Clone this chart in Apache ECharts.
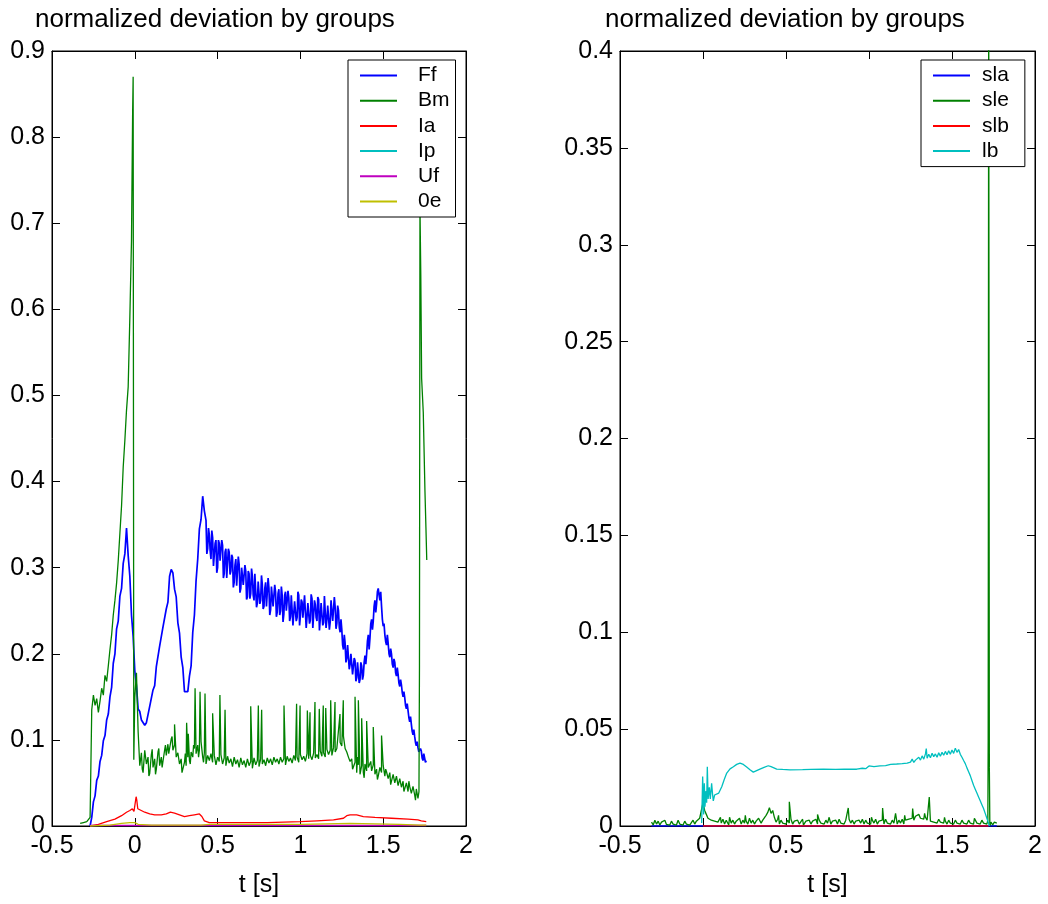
<!DOCTYPE html>
<html>
<head>
<meta charset="utf-8">
<script src="https://cdn.jsdelivr.net/npm/echarts@6/dist/echarts.min.js"></script>
<style>
html,body{margin:0;padding:0;background:#fff;}
#chart{width:1048px;height:904px;}
</style>
</head>
<body>
<div id="chart"></div>
<script>
// ---------- tick / axis data ----------
const xTicks = [-0.5, 0, 0.5, 1, 1.5, 2];
const leftYTicks = [0, 0.1, 0.2, 0.3, 0.4, 0.5, 0.6, 0.7, 0.8, 0.9];
const rightYTicks = [0, 0.05, 0.1, 0.15, 0.2, 0.25, 0.3, 0.35, 0.4];
const titleText = 'normalized deviation by groups';
const xName = 't [s]';
const leftNames = ['Ff', 'Bm', 'Ia', 'Ip', 'Uf', '0e'];
const rightNames = ['sla', 'sle', 'slb', 'lb'];

// sampling step of the recorded signals (s)
const sampleStep = 0.01;

// ---------- left panel ----------
// Ff: samples every 0.01 s starting at t = -0.27
const ffStart = -0.27;
const ffValues = [
  0.000,0.010,0.028,0.035,0.053,0.058,0.075,0.082,0.099,0.105,
  0.123,0.130,0.150,0.161,0.189,0.200,0.229,0.238,0.267,0.276,
  0.305,0.316,0.346,0.314,0.290,0.245,0.220,0.180,0.163,0.136,
  0.133,0.123,0.125,0.117,0.120,0.122,0.139,0.141,0.158,0.163,
  0.185,0.187,0.209,0.210,0.231,0.232,0.252,0.260,0.290,0.298,
  0.294,0.275,0.266,0.236,0.224,0.196,0.184,0.156,0.156,0.156,
  0.174,0.186,0.225,0.245,0.285,0.310,0.345,0.356,0.383,0.366,
  0.355,0.322,0.338,0.310,0.335,0.304,0.332,0.300,0.328,0.308,
  0.326,0.293,0.322,0.290,0.318,0.296,0.312,0.283,0.310,0.280,
  0.304,0.276,0.300,0.281,0.296,0.266,0.293,0.270,0.290,0.262,
  0.294,0.259,0.286,0.262,0.280,0.255,0.283,0.257,0.276,0.251,
  0.279,0.254,0.272,0.248,0.275,0.250,0.268,0.246,0.272,0.249,
  0.265,0.243,0.270,0.247,0.262,0.242,0.268,0.244,0.260,0.240,
  0.266,0.243,0.259,0.239,0.264,0.245,0.257,0.238,0.263,0.241,
  0.258,0.236,0.265,0.240,0.256,0.237,0.262,0.238,0.254,0.235,
  0.250,0.225,0.228,0.205,0.212,0.195,0.208,0.188,0.198,0.178,
  0.192,0.172,0.188,0.170,0.186,0.175,0.198,0.200,0.222,0.218,
  0.240,0.238,0.262,0.258,0.276,0.262,0.255,0.232,0.222,0.210,
  0.212,0.196,0.200,0.184,0.190,0.174,0.176,0.162,0.164,0.150,
  0.149,0.136,0.134,0.121,0.118,0.106,0.104,0.093,0.091,0.084,
  0.087,0.076,0.082,0.076
];
// Ff: in-between samples (t = 0.435, 0.445, ... 1.755)
const ffMidStart = 0.435;
const ffMidValues = [
  0.316,0.346,0.320,0.343,0.302,0.328,0.294,0.332,0.308,0.332,
  0.288,0.318,0.288,0.322,0.292,0.315,0.277,0.303,0.279,0.313,
  0.271,0.300,0.280,0.303,0.263,0.296,0.264,0.299,0.268,0.293,
  0.254,0.284,0.258,0.291,0.252,0.276,0.255,0.288,0.245,0.278,
  0.255,0.280,0.243,0.270,0.245,0.278,0.237,0.268,0.250,0.273,
  0.238,0.268,0.233,0.261,0.238,0.272,0.233,0.263,0.242,0.268,
  0.230,0.259,0.235,0.269,0.230,0.262,0.242,0.266,0.227,0.259,
  0.233,0.267,0.230,0.256,0.228,0.262,0.238,0.266,0.229,0.256,
  0.230,
  0.240,0.210,0.222,0.190,0.210,0.182,
  0.200,0.176,0.195,0.168,0.190,0.166,0.190,0.170,0.190,0.188,
  0.215,0.205,0.235,0.228,0.255,0.248,0.272,0.268,0.272,0.240,
  0.235,0.214,0.222,0.200,0.206,0.188,0.194,0.178,0.184,0.166,
  0.170,0.155,0.156,0.140,0.142,0.126,0.127,0.110,0.112,0.097,
  0.098,0.086,0.090,0.079,0.084,0.074
];

// Bm: samples every 0.01 s starting at t = -0.33
const bmStart = -0.33;
const bmValues = [
  0.003,0.005,0.004,0.006,0.005,0.007,0.010,0.135,0.152,0.140,
  0.148,0.132,0.145,0.160,0.152,0.175,0.168,0.186,0.205,0.222,
  0.245,0.262,0.282,0.308,0.340,0.372,0.417,0.448,0.483,0.510,
  0.590,0.680,0.870,0.150,0.178,0.110,0.070,0.085,0.062,0.088,
  0.072,0.080,0.061,0.083,0.068,0.078,0.066,0.086,0.070,0.080,
  0.075,0.088,0.082,0.095,0.090,0.101,0.088,0.094,0.080,0.085,
  0.072,0.078,0.066,0.074,0.070,0.080,0.076,0.086,0.080,0.090,
  0.084,0.094,0.088,0.098,0.080,0.085,0.072,0.082,0.076,0.084,
  0.074,0.082,0.071,0.080,0.075,0.083,0.072,0.079,0.070,0.081,
  0.073,0.078,0.069,0.080,0.072,0.077,0.068,0.079,0.071,0.076,
  0.068,0.078,0.070,0.075,0.067,0.079,0.071,0.076,0.069,0.078,
  0.072,0.077,0.070,0.079,0.073,0.078,0.071,0.080,0.074,0.078,
  0.072,0.080,0.074,0.078,0.071,0.081,0.075,0.079,0.073,0.082,
  0.076,0.080,0.074,0.083,0.077,0.081,0.075,0.084,0.078,0.082,
  0.077,0.085,0.079,0.083,0.078,0.087,0.081,0.085,0.080,0.089,
  0.083,0.088,0.082,0.091,0.086,0.090,0.088,0.097,0.093,0.104,
  0.090,0.086,0.080,0.075,0.078,0.068,0.074,0.062,0.071,0.060,
  0.070,0.062,0.072,0.064,0.068,0.070,0.064,0.071,0.060,0.066,
  0.058,0.068,0.062,0.070,0.058,0.063,0.055,0.062,0.052,0.060,
  0.050,0.058,0.047,0.055,0.045,0.052,0.042,0.050,0.040,0.046,
  0.038,0.046,0.036,0.043,0.032
];
// Bm: isolated spikes, in-between samples and the end burst [t, value]
const bmExtra = [
  [-0.013,0.830],[-0.006,0.077],
  [0.045,0.066],[0.065,0.090],[0.085,0.058],[0.105,0.089],[0.125,0.060],[0.145,0.090],
  [0.165,0.068],[0.185,0.094],[0.205,0.084],[0.225,0.104],[0.255,0.078],[0.285,0.062],
  [0.305,0.084],[0.335,0.072],[0.355,0.094],[0.385,0.080],[0.415,0.074],
  [0.240,0.118],[0.313,0.120],[0.323,0.107],[0.364,0.160],[0.394,0.156],[0.424,0.154],
  [0.470,0.131],[0.514,0.152],[0.545,0.135],[0.700,0.139],[0.746,0.140],[0.766,0.135],
  [0.901,0.140],[0.977,0.142],[0.998,0.140],[1.042,0.134],[1.058,0.132],[1.088,0.144],
  [1.114,0.136],[1.138,0.140],[1.153,0.137],[1.183,0.146],[1.209,0.144],[1.239,0.130],
  [1.259,0.146],[1.330,0.150],[1.350,0.146],[1.370,0.125],[1.400,0.122],[1.440,0.115],
  [1.490,0.105],[1.315,0.066],[1.345,0.080],[1.385,0.056],[1.425,0.075],[1.465,0.054],
  [1.515,0.066],[1.545,0.048],[1.585,0.060],[1.625,0.040],[1.655,0.052],[1.695,0.030],
  [1.716,0.040],[1.719,0.185],[1.722,0.720],[1.727,0.640],[1.732,0.520],[1.742,0.480],
  [1.752,0.390],[1.758,0.347],[1.763,0.309]
];

const iaPoints = [
  [-0.27,0.000],[-0.22,0.002],[-0.17,0.005],[-0.12,0.008],[-0.08,0.012],[-0.05,0.016],
  [-0.03,0.018],[-0.015,0.020],[-0.005,0.017],[0.003,0.019],[0.008,0.034],[0.012,0.030],
  [0.018,0.020],[0.03,0.018],[0.06,0.016],[0.09,0.014],[0.12,0.013],[0.16,0.013],
  [0.19,0.014],[0.215,0.016],[0.24,0.015],[0.27,0.013],[0.30,0.011],[0.33,0.012],
  [0.36,0.013],[0.39,0.014],[0.405,0.011],[0.42,0.006],[0.45,0.004],[0.6,0.004],
  [0.8,0.004],[1.0,0.005],[1.1,0.006],[1.2,0.007],[1.26,0.009],[1.28,0.012],
  [1.30,0.013],[1.34,0.013],[1.38,0.011],[1.45,0.010],[1.55,0.009],[1.65,0.008],
  [1.71,0.007],[1.72,0.009],[1.73,0.006],[1.76,0.005]
];
const ipPoints = [[-0.27,0.0004],[1.76,0.0004]];
const ufPoints = [[-0.27,0.0006],[1.76,0.0006]];
const oePoints = [
  [-0.27,0.000],[-0.15,0.001],[-0.08,0.003],[-0.03,0.004],[0.00,0.004],[0.02,0.002],
  [0.10,0.001],[0.40,0.001],[0.45,0.002],[1.00,0.002],[1.30,0.003],[1.60,0.002],
  [1.72,0.001],[1.76,0.001]
];

// ---------- right panel ----------
const slaPoints = [[-0.31,0],[1.77,0]];
const sleStart = -0.31;
const sleValues = [
  0.002,0.0005,0.003,0.001,0.0025,0.0005,0.002,0.001,0.003,0.0008,
  0.0015,0.0005,0.0025,0.001,0.002,0.0005,0.003,0.001,0.0015,0.0005,
  0.0025,0.001,0.002,0.0005,0.0015,0.003,0.001,0.0025,0.0015,0.004,
  0.003,0.012,0.008,0.006,0.004,0.005,0.003,0.004,0.0025,0.0035,
  0.002,0.003,0.0015,0.0035,0.001,0.003,0.002,0.0045,0.0015,0.003,
  0.001,0.0025,0.0015,0.004,0.001,0.003,0.0015,0.0025,0.001,0.004,
  0.0015,0.003,0.001,0.0025,0.002,0.0035,0.0015,0.003,0.004,0.0055,
  0.007,0.0095,0.0065,0.008,0.0045,0.002,0.0035,0.001,0.003,0.0015,
  0.0025,0.001,0.003,0.0015,0.0035,0.001,0.0025,0.0015,0.003,0.001,
  0.002,0.0035,0.001,0.0025,0.0015,0.003,0.001,0.0025,0.0015,0.0035,
  0.001,0.003,0.0015,0.0025,0.001,0.003,0.0015,0.0045,0.001,0.0025,
  0.0015,0.003,0.001,0.0035,0.0015,0.0025,0.001,0.003,0.002,0.0035,
  0.0015,0.003,0.001,0.0025,0.0015,0.003,0.0015,0.0035,0.001,0.003,
  0.0015,0.0025,0.001,0.003,0.0015,0.0035,0.001,0.0025,0.0015,0.003,
  0.001,0.0035,0.0015,0.0025,0.001,0.003,0.0015,0.0025,0.001,0.003,
  0.0015,0.0035,0.001,0.003,0.002,0.0035,0.0025,0.004,0.003,0.005,
  0.0045,0.006,0.004,0.005,0.0035,0.0045,0.003,0.004,0.0025,0.0035,
  0.002,0.003,0.0015,0.0035,0.002,0.003,0.0015,0.0025,0.001,0.003,
  0.0015,0.0025,0.001,0.003,0.0015,0.0025,0.001,0.003,0.0015,0.0025,
  0.001,0.003,0.0015,0.0025,0.001,0.0035,0.0015,0.0025,0.001,0.003,
  0.0015,0.0025,0.001
];
const sleExtra = [
  [0.255,0.0055],[0.520,0.0125],[0.690,0.006],[0.875,0.0093],[1.082,0.0093],
  [1.160,0.0065],[1.263,0.009],[1.363,0.015],
  [0.105,0.0045],[0.155,0.0005],[0.335,0.004],[0.455,0.0055],[0.605,0.0005],
  [0.745,0.004],[0.955,0.0005],[1.015,0.0045],[1.215,0.0055],[1.335,0.0065],
  [1.455,0.0045],[1.555,0.0005],[1.635,0.004],
  [1.716,0.003],[1.718,0.044],[1.719,0.160],[1.721,0.450],[1.723,0.450],[1.725,0.030],
  [1.728,0.000],[1.735,0.002],[1.745,0.0005],[1.755,0.002],[1.765,0.001],[1.770,0.0015]
];
const slbPoints = [[0.0,0],[1.72,0]];
const lbPoints = [
  [-0.008,0.0015],[-0.002,0.0255],[0.004,0.006],[0.008,0.022],[0.012,0.010],[0.018,0.018],
  [0.022,0.012],[0.026,0.0306],[0.031,0.014],[0.038,0.020],[0.044,0.014],[0.052,0.022],
  [0.058,0.016],[0.062,0.013],[0.070,0.016],[0.082,0.0151],[0.095,0.017],[0.113,0.0203],
  [0.128,0.024],[0.143,0.0273],[0.163,0.0295],[0.183,0.0306],[0.203,0.0318],[0.223,0.0325],
  [0.243,0.0318],[0.263,0.0304],[0.283,0.029],[0.303,0.0278],[0.323,0.0286],[0.343,0.0294],
  [0.368,0.0303],[0.393,0.0311],[0.410,0.0306],[0.444,0.0294],[0.480,0.0292],[0.524,0.029],
  [0.600,0.0291],[0.650,0.0292],[0.725,0.0293],[0.800,0.0292],[0.850,0.0293],[0.900,0.0294],
  [0.926,0.0293],[0.960,0.0298],[0.980,0.0296],[1.000,0.031],[1.030,0.0306],[1.066,0.031],
  [1.100,0.0312],[1.130,0.0318],[1.167,0.032],[1.200,0.0322],[1.230,0.0325],[1.250,0.033],
  [1.260,0.0345],[1.270,0.0328],[1.280,0.034],[1.290,0.0335],[1.300,0.0355],[1.310,0.034],
  [1.320,0.0362],[1.330,0.0345],[1.340,0.0372],[1.345,0.040],[1.350,0.035],[1.360,0.037],
  [1.370,0.0352],[1.380,0.0375],[1.390,0.0358],[1.400,0.0372],[1.410,0.0355],[1.420,0.0378],
  [1.430,0.036],[1.440,0.038],[1.450,0.0365],[1.460,0.0385],[1.470,0.0368],[1.480,0.0388],
  [1.490,0.037],[1.500,0.0392],[1.510,0.0375],[1.520,0.0402],[1.530,0.038],[1.540,0.0395],
  [1.550,0.037],[1.560,0.0355],[1.570,0.0338],[1.580,0.0322],[1.590,0.030],[1.600,0.028],
  [1.610,0.026],[1.620,0.0235],[1.630,0.021],[1.640,0.019],[1.650,0.017],[1.660,0.015],
  [1.670,0.013],[1.680,0.011],[1.690,0.009],[1.700,0.0065],[1.710,0.004],[1.720,0.0015],
  [1.725,0.000]
];

// ---------- helpers ----------
function sampled(start, values) {
  return values.map((v, i) => [Math.round((start + i * sampleStep) * 1000) / 1000, v]);
}
function merged() {
  const pts = [];
  for (const arr of arguments) arr.forEach(p => pts.push(p));
  pts.sort((a, b) => a[0] - b[0]);
  return pts;
}

const FONT = "'Liberation Sans', Arial, Helvetica, sans-serif";
const colors = {
  blue: '#0000ff', green: '#008000', red: '#ff0000',
  cyan: '#00bfbf', magenta: '#bf00bf', yellow: '#bfbf00'
};

const chart = echarts.init(document.getElementById('chart'), null, {renderer: 'canvas'});

function xAxes(gridIndex) {
  const base = {
    type: 'value', gridIndex, min: -0.5, max: 2, interval: 0.5,
    splitLine: {show: false},
    axisLine: {show: true, onZero: false, lineStyle: {color: '#000', width: 1}},
    axisTick: {show: true, inside: true, length: 8, lineStyle: {color: '#000'}}
  };
  return [
    Object.assign({}, base, {
      position: 'bottom',
      name: xName, nameLocation: 'middle', nameGap: 47,
      nameTextStyle: {color: '#000', fontSize: 25, fontFamily: FONT},
      axisLabel: {show: true, color: '#000', fontSize: 25, fontFamily: FONT, margin: 8}
    }),
    Object.assign({}, base, {position: 'top', axisLabel: {show: false}})
  ];
}
function yAxes(gridIndex, max, interval) {
  const base = {
    type: 'value', gridIndex, min: 0, max, interval,
    splitLine: {show: false},
    axisLine: {show: true, onZero: false, lineStyle: {color: '#000', width: 1}},
    axisTick: {show: true, inside: true, length: 8, lineStyle: {color: '#000'}}
  };
  return [
    Object.assign({}, base, {
      position: 'left',
      axisLabel: {show: true, color: '#000', fontSize: 25, fontFamily: FONT, margin: 7}
    }),
    Object.assign({}, base, {position: 'right', axisLabel: {show: false}})
  ];
}

function line(name, data, color, xi, yi, width) {
  return {
    name, type: 'line', data, xAxisIndex: xi, yAxisIndex: yi,
    showSymbol: false, symbol: 'none', animation: false, clip: true,
    lineStyle: {color, width: width || 1}, itemStyle: {color},
    emphasis: {disabled: true}
  };
}

const legendCommon = {
  orient: 'vertical', top: 60, itemWidth: 37, itemHeight: 2, itemGap: 4.2,
  icon: 'rect', selectedMode: false, backgroundColor: '#fff',
  borderColor: '#000', borderWidth: 1, borderRadius: 0,
  textStyle: {color: '#000', fontSize: 21, fontFamily: FONT, lineHeight: 21}
};

const option = {
  backgroundColor: '#fff',
  animation: false,
  title: [
    {text: titleText, left: 35, top: 7, padding: 0,
     textStyle: {color: '#000', fontSize: 26, fontWeight: 'normal', fontFamily: FONT}},
    {text: titleText, left: 605, top: 7, padding: 0,
     textStyle: {color: '#000', fontSize: 26, fontWeight: 'normal', fontFamily: FONT}}
  ],
  grid: [
    {left: 52, top: 51, width: 414, height: 775, show: true, borderColor: '#000', borderWidth: 1, containLabel: false},
    {left: 620, top: 51, width: 415, height: 775, show: true, borderColor: '#000', borderWidth: 1, containLabel: false}
  ],
  xAxis: [].concat(xAxes(0), xAxes(1)),
  yAxis: [].concat(yAxes(0, 0.9, 0.1), yAxes(1, 0.4, 0.05)),
  legend: [
    Object.assign({}, legendCommon, {
      left: 348, data: leftNames, padding: [5, 6, 5, 12],
      textStyle: Object.assign({}, legendCommon.textStyle, {padding: [0, 0, 0, 16]})
    }),
    Object.assign({}, legendCommon, {
      left: 921, data: rightNames, padding: [5, 16, 5, 12],
      textStyle: Object.assign({}, legendCommon.textStyle, {padding: [0, 0, 0, 7]})
    })
  ],
  series: [
    line('Ff', merged(sampled(ffStart, ffValues), sampled(ffMidStart, ffMidValues)), colors.blue, 0, 0, 1.7),
    line('Bm', merged(sampled(bmStart, bmValues), bmExtra), colors.green, 0, 0, 1.3),
    line('Ia', iaPoints, colors.red, 0, 0, 1.3),
    line('Ip', ipPoints, colors.cyan, 0, 0, 1),
    line('Uf', ufPoints, colors.magenta, 0, 0, 1.5),
    line('0e', oePoints, colors.yellow, 0, 0, 1.3),
    line('sla', slaPoints, colors.blue, 2, 2, 1.3),
    line('sle', merged(sampled(sleStart, sleValues), sleExtra), colors.green, 2, 2, 1.3),
    line('slb', slbPoints, colors.red, 2, 2, 1.3),
    line('lb', lbPoints, colors.cyan, 2, 2, 1.3)
  ]
};
chart.setOption(option);
</script>
</body>
</html>
